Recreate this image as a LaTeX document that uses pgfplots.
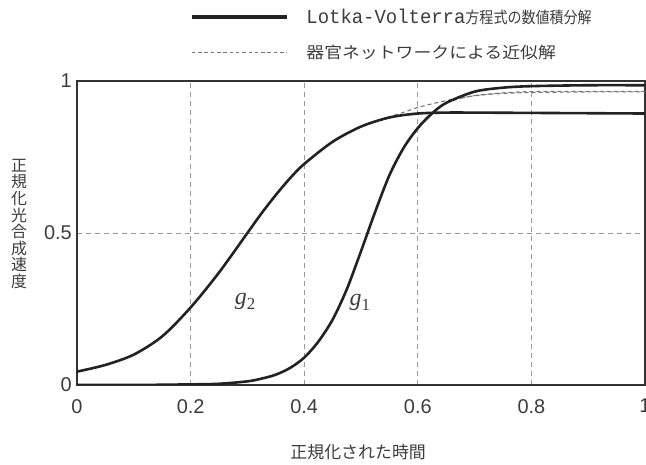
\documentclass[border=0pt]{standalone}
\usepackage{fontspec}
\setmainfont{Liberation Sans}
\newfontfamily\jp{Noto Sans CJK JP}
\newfontfamily\jpwide[FakeStretch=1.12]{Noto Sans CJK JP}
\newfontfamily\jpnarrow[FakeStretch=0.88]{Noto Sans CJK JP}
\newfontfamily\mono[FakeStretch=0.95]{Liberation Mono}
\newfontfamily\serif{Liberation Serif}
\usepackage{pgfplots}
\pgfplotsset{compat=1.18}
\definecolor{txt}{HTML}{3C3C3C}
\definecolor{curve}{HTML}{222222}
\definecolor{approx}{HTML}{777777}
\definecolor{gridc}{HTML}{9A9A9A}

\pgfplotstableread{
x y
0 0
0.1 0
0.2 0.002
0.25 0.004
0.3 0.012
0.325 0.021
0.35 0.034
0.375 0.056
0.4 0.09
0.425 0.143
0.45 0.215
0.475 0.315
0.5 0.44
0.525 0.57
0.55 0.69
0.575 0.78
0.6 0.845
0.625 0.893
0.65 0.928
0.7 0.965
0.75 0.978
0.8 0.983
0.9 0.986
1.0 0.986
}\gone

\pgfplotstableread{
x y
0 0.044
0.05 0.066
0.1 0.1
0.15 0.16
0.2 0.255
0.25 0.37
0.3 0.5
0.325 0.565
0.35 0.625
0.375 0.68
0.4 0.727
0.45 0.80
0.5 0.85
0.55 0.88
0.6 0.893
0.65 0.896
0.7 0.896
1.0 0.893
}\gtwo

\pgfplotstableread{
x y
0.50 0.44
0.55 0.69
0.60 0.848
0.64 0.918
0.67 0.94
0.70 0.952
0.75 0.961
0.80 0.965
0.90 0.966
1.00 0.966
}\goneapprox

\pgfplotstableread{
x y
0.5 0.85
0.53 0.87
0.567 0.892
0.60 0.913
0.637 0.93
0.67 0.943
0.707 0.953
0.75 0.959
0.80 0.962
0.90 0.964
1.00 0.964
}\gtwoapprox

\begin{document}
\begin{tikzpicture}[x=1bp,y=1bp]
\path[use as bounding box] (0,0) rectangle (646,465);
\begin{axis}[
  at={(77bp,80bp)}, anchor=south west, scale only axis,
  width=568bp, height=304bp,
  xmin=0, xmax=1, ymin=0, ymax=1,
  xtick={0,0.2,0.4,0.6,0.8,1}, xticklabels={0,0.2,0.4,0.6,0.8,1},
  ytick={0,0.5,1}, yticklabels={0,0.5,1},
  major tick length=0pt,
  xmajorgrids, ymajorgrids,
  major grid style={gridc, line width=0.8bp, dash pattern=on 5bp off 4bp},
  axis line style={draw=black!80, line width=1.4bp},
  tick label style={font=\fontsize{20}{20}\selectfont, text=txt},
  xticklabel style={anchor=north, inner sep=0pt, yshift=-14bp},
  yticklabel style={anchor=east, inner sep=0pt, xshift=-5bp},
  xlabel={\jp 正規化された時間},
  xlabel style={at={(axis description cs:0.495,-0.22)}, anchor=center, font=\fontsize{17}{17}\selectfont, text=txt},
  ylabel={正\\規\\化\\光\\合\\成\\速\\度},
  ylabel style={at={(axis description cs:-0.102,0.53)}, anchor=center, rotate=-90, align=center, font=\jp\fontsize{16}{16.7}\selectfont, text=txt},
  legend style={at={(axis description cs:0.199,1.0)}, anchor=south west, yshift=21bp, draw=none, fill=none, inner sep=0pt, row sep=20bp, font=\fontsize{16}{16}\selectfont, text=txt, nodes={inner sep=0pt}, /tikz/every odd column/.append style={column sep=18bp}},
  legend cell align=left,
  legend image code/.code={\draw[#1] (0bp,0bp) -- (95bp,0bp);},
]
\addlegendimage{curve, line width=3.2bp}
\addlegendentry{{\mono\fontsize{20}{20}\selectfont Lotka-Volterra}{\jpnarrow\fontsize{16}{16}\selectfont 方程式の数値積分解}}
\addlegendimage{approx, line width=0.9bp, dash pattern=on 3.5bp off 2.8bp}
\addlegendentry{{\jpwide\fontsize{16}{16}\selectfont 器官ネットワークによる近似解}}

\addplot[approx, line width=1.1bp, dash pattern=on 4bp off 3bp, smooth, forget plot] table[x=x,y=y] {\gtwoapprox};
\addplot[approx, line width=1.1bp, dash pattern=on 4bp off 3bp, smooth, forget plot] table[x=x,y=y] {\goneapprox};
\addplot[curve, line width=2.6bp, smooth, forget plot] table[x=x,y=y] {\gone};
\addplot[curve, line width=2.6bp, smooth, forget plot] table[x=x,y=y] {\gtwo};

\node[text=txt, inner sep=0pt] at (axis cs:0.296,0.275) {\serif\itshape\fontsize{24}{24}\selectfont g\raisebox{-5bp}{\upshape\fontsize{17}{17}\selectfont 2}};
\node[text=txt, inner sep=0pt] at (axis cs:0.498,0.27) {\serif\itshape\fontsize{24}{24}\selectfont g\raisebox{-5bp}{\upshape\fontsize{17}{17}\selectfont 1}};
\end{axis}
\end{tikzpicture}
\end{document}
